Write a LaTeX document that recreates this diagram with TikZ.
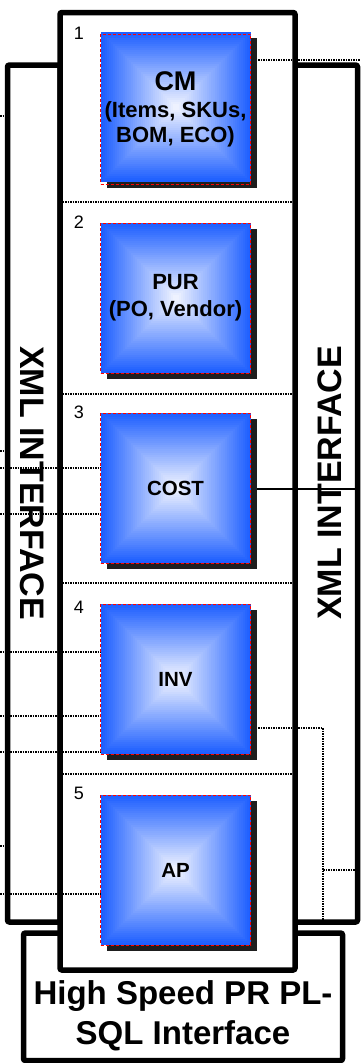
\documentclass[tikz,border=0pt]{standalone}
\usepackage{fontspec}
\setmainfont{Liberation Sans}
\usepackage{xcolor}
\usetikzlibrary{positioning,calc}
\definecolor{edgeblue}{RGB}{30,95,255}
\definecolor{coreblue}{RGB}{238,242,255}
\definecolor{shadowgray}{RGB}{30,30,30}
\pgfdeclarelayer{frames}
\pgfdeclarelayer{wires}
\pgfsetlayers{frames,wires,main}

\begin{document}
\begin{tikzpicture}[
    x=1pt, y=-1pt,
    frame/.style={draw, line width=5.5pt, fill=white, rounded corners=2pt, inner sep=0pt, outer sep=0pt},
    modbox/.style={draw=red, densely dashed, line width=0.9pt, minimum width=150pt, minimum height=150pt, inner sep=0pt, align=center, font=\bfseries\fontsize{22}{27}\selectfont},
    num/.style={font=\fontsize{18}{20}\selectfont},
    xml/.style={font=\bfseries\fontsize{34}{40}\selectfont},
    wire/.style={line width=1.5pt, dash pattern=on 1.5pt off 1pt},
    solidwire/.style={line width=1.1pt},
]
\useasboundingbox (0,0) rectangle (360,1063);

% outer frames
\begin{pgfonlayer}{frames}
\node[frame, minimum width=319pt, minimum height=127.5pt] (plsql) at (183,996.75) {};
\node[frame, minimum width=52.5pt, minimum height=857pt] (xmlL) at (33.75,493.5) {};
\node[frame, minimum width=62.5pt, minimum height=857pt] (xmlR) at (326.25,493.5) {};
\node[frame, minimum width=235pt, minimum height=957.5pt] (core) at (177.5,491.25) {};
\foreach \yy in {202,394,583,774}
  \draw[wire] (core.west |- 0,\yy) -- (core.east |- 0,\yy);
\end{pgfonlayer}

% shadows and shaded faces
\foreach \yy in {107,298,488,679,870}{
  \fill[shadowgray] (106.5,\yy-69) rectangle (256.5,\yy+81);
  \foreach \k in {0,...,36}{
    \pgfmathtruncatemacro\p{\k*100/36}
    \fill[coreblue!\p!edgeblue] (100.5+2*\k,\yy-75+2*\k) rectangle (250.5-2*\k,\yy+75-2*\k);
  }
}

\node[modbox] (cm) at (175.5,109) {{\fontsize{27}{29}\selectfont CM}\\(Items, SKUs,\\[-2pt]BOM, ECO)};
\node[modbox] (pur) at (175.5,298) {PUR\\(PO, Vendor)};
\node[modbox, font=\bfseries\fontsize{20.5}{22}\selectfont] (cost) at (175.5,488) {COST};
\node[modbox, font=\bfseries\fontsize{20.5}{22}\selectfont] (inv) at (175.5,679) {INV};
\node[modbox, font=\bfseries\fontsize{20.5}{22}\selectfont] (ap) at (175.5,870) {AP};

\foreach \i/\yy in {1/33,2/222,3/412,4/607,5/793}
  \node[num] (n\i) at (79,\yy) {\i};

\node[xml, rotate=-90] (xmlLtext) at (32.5,483) {XML INTERFACE};
\node[xml, rotate=90] (xmlRtext) at (330,483) {XML INTERFACE};
\node[font=\bfseries\fontsize{33}{40}\selectfont, align=center] (plsqltext) at (183,1016) {High Speed PR PL-\\SQL Interface};

% connectors
\foreach \n/\yy in {A/116,B/451,C/468,D/514,E/652,F/716,G/752,H/846,I/894}
  \coordinate (in\n) at (0,\yy);
\coordinate (outA) at (360,60);
\coordinate (outB) at (360,489);
\coordinate (bend) at (323,728);
\coordinate (tap) at (323,870);

\begin{pgfonlayer}{wires}
\draw[wire] (inA) -- (xmlL.west |- inA);
\draw[wire] (inB) -- (xmlL.west |- inB);
\draw[wire] (inC) -- (cost.west |- inC);
\draw[wire] (inD) -- (cost.west |- inD);
\draw[wire] (inE) -- (inv.west |- inE);
\draw[wire] (inF) -- (inv.west |- inF);
\draw[wire] (inG) -- (inv.west |- inG);
\draw[wire] (inH) -- (xmlL.west |- inH);
\draw[wire] (inI) -- (ap.west |- inI);
\draw[wire] (cm.east |- outA) -- (outA);
\draw[solidwire] (cost.east |- outB) -- (outB);
\draw[wire] (inv.east |- bend) -- (bend) -- (bend |- xmlR.south);
\draw[wire] (tap) -- (xmlR.east |- tap);
\end{pgfonlayer}
\end{tikzpicture}
\end{document}
